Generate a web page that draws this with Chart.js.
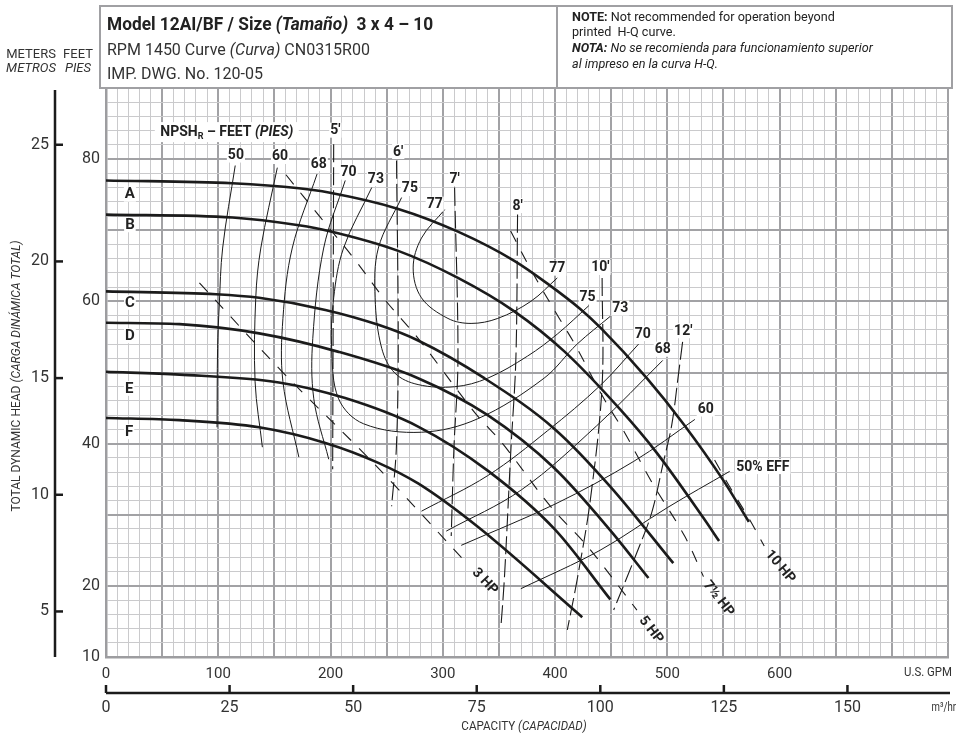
<!DOCTYPE html>
<html>
<head>
<meta charset="utf-8">
<script src="https://cdn.jsdelivr.net/npm/chart.js@4.4.1/dist/chart.umd.min.js"></script>
<style>
  html, body { margin: 0; padding: 0; background: #fff; }
  canvas { display: block; }
</style>
</head>
<body>
<canvas id="curva" width="956" height="738"></canvas>
<script>
// Head-capacity curves per impeller (GPM, feet)
const headA = [[0,77.0],[112.5,76.6],[171.8,75.9],[198.4,75.3],[260.3,73.0],[313.5,69.8],[363.7,65.7],[393.2,62.5],[422.7,58.9],[440.4,56.3],[481.7,49.2],[514.2,42.8],[549.6,34.9],[572.6,29.0]];
const headB = [[0,72.2],[112.7,71.8],[171.8,70.7],[198.4,69.9],[260.3,67.1],[313.5,63.3],[363.7,58.6],[408,53.0],[458,44.8],[490.6,38.7],[531.9,29.6],[546.1,26.3]];
const headC = [[0,61.4],[98,61.0],[136.4,60.5],[195.4,58.8],[242.6,56.7],[278,54.5],[337,49.2],[400,42.0],[449,34.0],[505.3,23.2]];
const headD = [[0,57.0],[65.5,56.8],[136.4,55.5],[207.2,52.9],[278,49.2],[340,44.0],[399,36.6],[449.2,27.8],[483.2,21.1]];
const headE = [[0,50.1],[65.5,49.7],[154,48.6],[213,46.4],[278,42.4],[340,36.2],[400,27.9],[449.2,18.1]];
const headF = [[0,43.6],[65.5,43.3],[136.4,42.3],[195.4,40.1],[242.6,37.3],[278,34.4],[331.2,28.3],[424.2,15.6]];

// Efficiency contours (%)
const eff50L = [[115.1,79.1],[103.9,67.5],[100.9,59.5],[99.4,53.4],[98.9,42.3]];
const eff60L = [[152.6,78.8],[137.9,67.5],[133.4,60.5],[132.8,48.7],[139.3,39.5]];
const eff68L = [[188.0,77.9],[165.9,67.5],[157.6,57.6],[157.6,48.7],[171.8,38.1]];
const eff70L = [[213.1,77.0],[193.9,67.5],[184.2,54.8],[185.1,46.3],[198.4,37.8]];
const eff73 = [[236.7,76.0],[211.6,67.5],[202.8,60.5],[201.0,53.4],[207.2,46.3],[229.3,42.8],[281.0,41.6],[331.2,43.5],[390.2,49.2],[419.7,54.0],[449.2,57.9]];
const eff75 = [[263.3,74.6],[242.6,67.5],[239.7,60.5],[245.6,53.4],[257.4,49.9],[278.0,48.3],[310.6,48.0],[340.0,49.2],[375.4,52.3],[402.0,55.4],[430.1,59.4]];
const eff77 = [[301.7,72.9],[281.0,68.9],[273.6,64.7],[281.0,60.5],[304.6,57.6],[325.2,56.9],[348.9,57.6],[378.4,60.0],[402.0,63.3]];
const eff70R = [[281.0,30.5],[340.0,35.5],[393.2,41.8],[440.4,48.2],[474.4,54.0]];
const eff68R = [[303.1,27.7],[370,33.5],[437,42.5],[495.9,51.7]];
const eff60R = [[316.4,25.7],[400,31.5],[470,37.5],[524.5,43.4]];
const eff50R = [[369.5,19.6],[440,25.0],[500,31.0],[555.5,36.1]];

// NPSH required (feet)
const npsh5 = [[202.8,82.1],[201.9,36.4]];
const npsh6 = [[258.8,79.8],[260.3,53.4],[258.6,39.3],[254.4,31.2]];
const npsh7 = [[310.5,76.0],[313.5,52.0],[309.9,39.3],[307.5,27.0]];
const npsh8 = [[366.6,72.2],[365.1,52.0],[360.7,39.3],[354.8,20.9],[351.8,14.3]];
const npsh10 = [[441.9,63.3],[441.9,48.2],[431.5,32.2],[419.7,20.9],[410.9,13.8]];
const npsh12 = [[513.6,54.3],[509.8,49.6],[503.9,42.6],[496.5,37.4],[486.1,30.3],[472.9,24.7],[452.2,16.6]];

// Brake horsepower lines
const hp3 = [[83.2,62.6],[157.0,50.1],[224.9,39.4],[257.4,34.1],[322.3,23.0]];
const hp5 = [[160.3,77.8],[191.0,71.8],[220.5,66.1],[248.6,60.2],[278.0,54.8],[328.3,44.4],[353.3,40.0],[395.8,31.2],[428.6,25.6],[472.9,16.6]];
const hp75 = [[360.4,69.9],[379.0,64.3],[403.8,57.6],[417.1,54.1],[443.6,46.3],[461.4,41.7],[486.1,34.6],[515.4,27.0],[532.2,21.3]];
const hp10 = [[542.1,37.7],[555.3,34.0],[573.0,29.4],[586.3,25.6]];

// Axes
const gpmMax = 750;
const feetMin = 10, feetMax = 90;
const gpmLabels = [0, 100, 200, 300, 400, 500, 600];
const feetLabels = [10, 20, 40, 60, 80];
const meterTicks = [5, 10, 15, 20, 25];
const m3hTicks = [0, 25, 50, 75, 100, 125, 150];
const FT_PER_M = 3.28084;
const GPM_PER_M3H = 4.40287;

// Annotation text anchored in data units
const effLabels = [['50',115.7,80.5],['60',155.0,80.3],['68',189.5,79.3],['70',216.1,78.1],['73',240.4,77.2],['75',270.7,75.8],['77',292.8,73.6],
  ['77',402.0,64.6],['75',429.0,60.6],['73',458.1,59.0],['70',478.2,55.4],['68',495.9,53.2],['60',534.2,44.8]];
const npshLabels = [["5'",204.3,84.0],["6'",260.3,81.0],["7'",310.5,77.2],["8'",366.6,73.4],["10'",440.4,64.7],["12'",514.2,55.8]];
const curveLetters = [['A',21.3,75.0],['B',21.3,70.7],['C',21.3,59.8],['D',21.3,55.1],['E',20.6,47.7],['F',20.6,41.6]];
const hpLabels = [['3 HP',337.4,20.6,47],['5 HP',485.3,13.8,52],['7\u00bd HP',545.5,18.2,52],['10 HP',600.4,22.7,50]];

const FONT = "Roboto, 'Liberation Sans', sans-serif";
const INK = '#222';

function pts(arr) { return arr.map(p => ({ x: p[0], y: p[1] })); }

function line(data, width, dash, smooth) {
  return {
    data: pts(data), borderColor: '#1b1b1b', borderWidth: width,
    borderDash: dash || [], pointRadius: 0, fill: false,
    tension: 0.35, cubicInterpolationMode: smooth || 'default'
  };
}

// draw a run of differently styled text pieces, optionally squeezed sideways
function richText(ctx, parts, x, y, align, squeeze) {
  const k = squeeze || 1;
  let total = 0;
  parts.forEach(p => { ctx.font = p[1]; total += ctx.measureText(p[0]).width; });
  let cx = align === 'center' ? -total / 2 : (align === 'right' ? -total : 0);
  ctx.save();
  ctx.translate(x, y);
  ctx.scale(k, 1);
  ctx.textAlign = 'left';
  parts.forEach(p => {
    ctx.font = p[1];
    ctx.fillText(p[0], cx, p[2] || 0);
    cx += ctx.measureText(p[0]).width;
  });
  ctx.restore();
  return total * k;
}

function boxedLabel(ctx, text, x, y, font) {
  ctx.font = font;
  const w = ctx.measureText(text).width;
  ctx.fillStyle = '#fff';
  ctx.fillRect(x - w / 2 - 1, y - 8, w + 2, 15);
  ctx.fillStyle = INK;
  ctx.textAlign = 'center';
  ctx.textBaseline = 'middle';
  ctx.fillText(text, x, y);
}

const decor = {
  id: 'decor',
  beforeDraw(chart) {
    const ctx = chart.ctx;
    ctx.save();
    ctx.fillStyle = '#fff';
    ctx.fillRect(0, 0, chart.width, chart.height);
    ctx.restore();
  },
  afterDatasetsDraw(chart) {
    const ctx = chart.ctx, xs = chart.scales.x, ys = chart.scales.y;
    const bold = 'bold 14px ' + FONT;
    ctx.save();
    effLabels.forEach(l => boxedLabel(ctx, l[0], xs.getPixelForValue(l[1]), ys.getPixelForValue(l[2]), bold));
    npshLabels.forEach(l => boxedLabel(ctx, l[0], xs.getPixelForValue(l[1]), ys.getPixelForValue(l[2]), bold));
    curveLetters.forEach(l => boxedLabel(ctx, l[0], xs.getPixelForValue(l[1]), ys.getPixelForValue(l[2]), 'bold 15px ' + FONT));

    // 50% EFF tag
    ctx.font = bold;
    const ex = xs.getPixelForValue(561.4), ey = ys.getPixelForValue(36.7);
    const w = ctx.measureText('50% EFF').width;
    ctx.fillStyle = '#fff';
    ctx.fillRect(ex - 1, ey - 8, w + 2, 15);
    ctx.fillStyle = INK;
    ctx.textAlign = 'left';
    ctx.textBaseline = 'middle';
    ctx.fillText('50% EFF', ex, ey);

    // NPSH title
    const nx = xs.getPixelForValue(107.6), ny = ys.getPixelForValue(83.8);
    ctx.fillStyle = '#fff';
    ctx.fillRect(nx - 72, ny - 10, 144, 20);
    ctx.fillStyle = INK;
    richText(ctx, [['NPSH', bold], ['R', 'bold 9px ' + FONT, 5], [' \u2013 FEET ', bold], ['(PIES)', 'italic bold 14px ' + FONT]], nx, ny, 'center');

    // horsepower tags follow the slope of their lines
    hpLabels.forEach(l => {
      ctx.save();
      ctx.translate(xs.getPixelForValue(l[1]), ys.getPixelForValue(l[2]));
      ctx.rotate(l[3] * Math.PI / 180);
      ctx.font = bold;
      ctx.fillStyle = INK;
      ctx.textAlign = 'center';
      ctx.textBaseline = 'middle';
      ctx.fillText(l[0], 0, 0);
      ctx.restore();
    });
    ctx.restore();
  },
  afterDraw(chart) {
    const ctx = chart.ctx, xs = chart.scales.x, ys = chart.scales.y;
    const area = chart.chartArea;
    ctx.save();

    // header box
    ctx.fillStyle = '#fff';
    ctx.fillRect(99, 6, 854, 82);
    ctx.strokeStyle = '#a0a0a3';
    ctx.lineWidth = 2;
    ctx.strokeRect(100, 6, 852, 82);
    ctx.beginPath();
    ctx.moveTo(557, 6); ctx.lineTo(557, 88);
    ctx.stroke();

    ctx.fillStyle = INK;
    ctx.textBaseline = 'alphabetic';
    richText(ctx, [['Model 12AI/BF / Size ', 'bold 19px ' + FONT], ['(Tama\u00f1o)', 'italic bold 19px ' + FONT], ['  3 x 4 \u2013 10', 'bold 19px ' + FONT]], 107, 30, 'left', 0.91);
    ctx.fillStyle = '#333';
    richText(ctx, [['RPM 1450 Curve ', '16px ' + FONT], ['(Curva)', 'italic 16px ' + FONT], [' CN0315R00', '16px ' + FONT]], 107, 55, 'left');
    richText(ctx, [['IMP. DWG. No. 120-05', '16px ' + FONT]], 107, 79, 'left');

    ctx.fillStyle = INK;
    richText(ctx, [['NOTE:', 'bold 13px ' + FONT], [' Not recommended for operation beyond', '13px ' + FONT]], 572, 21, 'left', 0.97);
    richText(ctx, [['printed  H-Q curve.', '13px ' + FONT]], 572, 36, 'left', 0.97);
    richText(ctx, [['NOTA:', 'italic bold 13px ' + FONT], [' No se recomienda para funcionamiento superior', 'italic 13px ' + FONT]], 572, 52, 'left', 0.97);
    richText(ctx, [['al impreso en la curva H-Q.', 'italic 13px ' + FONT]], 572, 68, 'left', 0.97);

    // metric head axis
    ctx.strokeStyle = '#1b1b1b';
    ctx.lineWidth = 2.5;
    ctx.beginPath();
    ctx.moveTo(55, area.top + 2); ctx.lineTo(55, area.bottom);
    ctx.stroke();
    ctx.font = '16px ' + FONT;
    ctx.fillStyle = '#333';
    ctx.textAlign = 'right';
    ctx.textBaseline = 'middle';
    meterTicks.forEach(m => {
      const py = ys.getPixelForValue(m * FT_PER_M);
      ctx.beginPath();
      ctx.moveTo(55, py); ctx.lineTo(63, py);
      ctx.stroke();
      ctx.fillText(String(m), 49, py);
    });

    // metric capacity axis
    const ay = 693;
    ctx.beginPath();
    ctx.moveTo(area.left, ay); ctx.lineTo(950, ay);
    ctx.stroke();
    ctx.textAlign = 'center';
    m3hTicks.forEach(v => {
      const px = xs.getPixelForValue(v * GPM_PER_M3H);
      ctx.beginPath();
      ctx.moveTo(px, ay); ctx.lineTo(px, ay - 8);
      ctx.stroke();
      ctx.fillText(String(v), px, 708);
    });
    richText(ctx, [['m\u00b3/hr', '12px ' + FONT]], 956, 708, 'right', 0.8);
    richText(ctx, [['U.S. GPM', '12px ' + FONT]], 952, 673, 'right', 0.95);

    // axis titles
    richText(ctx, [['CAPACITY ', '12px ' + FONT], ['(CAPACIDAD)', 'italic 12px ' + FONT]], 524, 727, 'center', 0.97);
    ctx.save();
    ctx.translate(17, 376);
    ctx.rotate(-Math.PI / 2);
    richText(ctx, [['TOTAL DYNAMIC HEAD ', '12px ' + FONT], ['(CARGA DIN\u00c1MICA TOTAL)', 'italic 12px ' + FONT]], 0, 0, 'center');
    ctx.restore();

    richText(ctx, [['METERS', '13px ' + FONT]], 31, 55, 'center');
    richText(ctx, [['METROS', 'italic 13px ' + FONT]], 31, 69, 'center');
    richText(ctx, [['FEET', '13px ' + FONT]], 78, 55, 'center');
    richText(ctx, [['PIES', 'italic 13px ' + FONT]], 78, 69, 'center');
    ctx.restore();
  }
};

const datasets = [
  line(headA, 2.6, [], 'monotone'), line(headB, 2.6, [], 'monotone'), line(headC, 2.6, [], 'monotone'),
  line(headD, 2.6, [], 'monotone'), line(headE, 2.6, [], 'monotone'), line(headF, 2.6, [], 'monotone'),
  line(eff50L, 1), line(eff60L, 1), line(eff68L, 1), line(eff70L, 1), line(eff73, 1), line(eff75, 1), line(eff77, 1),
  line(eff70R, 1), line(eff68R, 1), line(eff60R, 1), line(eff50R, 1),
  line(npsh5, 1.1, [18, 5]), line(npsh6, 1.1, [18, 5]), line(npsh7, 1.1, [18, 5]), line(npsh8, 1.1, [18, 5]), line(npsh10, 1.1, [18, 5]), line(npsh12, 1.1, [18, 5]),
  line(hp3, 1.1, [12, 11]), line(hp5, 1.1, [12, 11]), line(hp75, 1.1, [12, 11]), line(hp10, 1.1, [12, 11])
];

new Chart(document.getElementById('curva'), {
  type: 'line',
  data: { datasets: datasets },
  options: {
    responsive: false,
    animation: false,
    devicePixelRatio: 1,
    layout: { padding: { top: 88, right: 3, left: 0, bottom: 0 } },
    plugins: { legend: { display: false }, tooltip: { enabled: false } },
    scales: {
      x: {
        type: 'linear', min: 0, max: gpmMax,
        afterFit: s => { s.height = 81; },
        border: { display: true, color: '#9d9da0', width: 2.5 },
        grid: {
          drawTicks: false,
          color: c => (Math.round(c.tick.value) % 50 === 0 ? '#a2a2a5' : '#cacacc'),
          lineWidth: c => (Math.round(c.tick.value) % 50 === 0 ? 2 : 1)
        },
        ticks: {
          stepSize: 10, autoSkip: false, maxRotation: 0, padding: 8,
          color: '#333', font: { family: FONT, size: 15 },
          callback: v => (gpmLabels.includes(Math.round(v)) ? String(Math.round(v)) : '')
        }
      },
      y: {
        type: 'linear', min: feetMin, max: feetMax,
        afterFit: s => { s.width = 106; },
        border: { display: true, color: '#9d9da0', width: 2.5 },
        grid: {
          drawTicks: false,
          color: c => (Math.round(c.tick.value) % 10 === 0 ? '#a2a2a5' : '#cacacc'),
          lineWidth: c => (Math.round(c.tick.value) % 10 === 0 ? 2 : 1)
        },
        ticks: {
          stepSize: 2, autoSkip: false, padding: 6,
          color: '#333', font: { family: FONT, size: 16 },
          callback: v => (feetLabels.includes(Math.round(v)) ? String(Math.round(v)) : '')
        }
      }
    }
  },
  plugins: [decor]
});
</script>
</body>
</html>
